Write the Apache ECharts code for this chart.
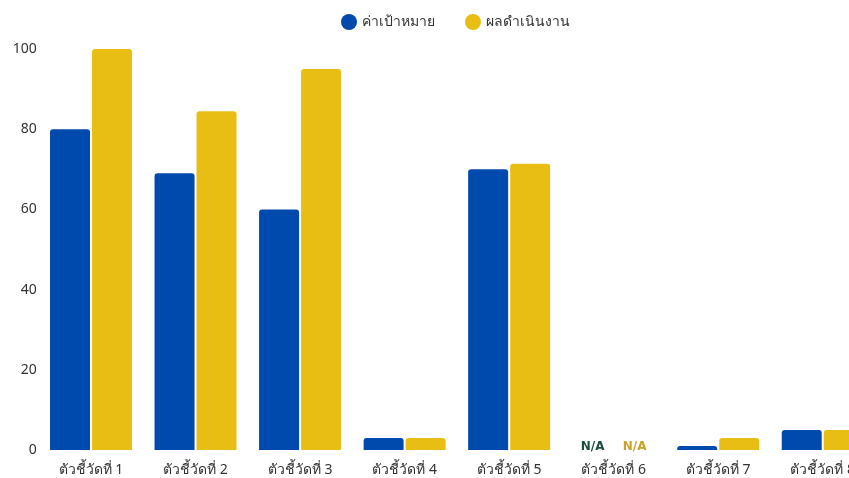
<!DOCTYPE html>
<html>
<head>
<meta charset="utf-8">
<script src="https://cdn.jsdelivr.net/npm/echarts@6/dist/echarts.min.js"></script>
<style>
html,body{margin:0;padding:0;background:#fff;overflow:hidden;width:849px;height:478px;}
#c{width:875px;height:478px;}
</style>
</head>
<body>
<div id="c"></div>
<script>
const categories = ['ตัวชี้วัดที่ 1','ตัวชี้วัดที่ 2','ตัวชี้วัดที่ 3','ตัวชี้วัดที่ 4','ตัวชี้วัดที่ 5','ตัวชี้วัดที่ 6','ตัวชี้วัดที่ 7','ตัวชี้วัดที่ 8'];
const seriesNames = ['ค่าเป้าหมาย','ผลดำเนินงาน'];
const targetValues = [80, 69, 60, 3, 70, null, 1, 5];
const actualValues = [100, 84.5, 95, 3, 71.4, null, 3, 5];
const yTicks = [0, 20, 40, 60, 80, 100];

const colors = ['#004AAD', '#E8BE14'];
const naColors = ['#1B4D3E', '#C9A227'];

function buildData(arr, idx) {
  return arr.map(v => v === null
    ? {value: 0, label: {show: true, position: 'top', distance: -3, formatter: 'N/A', color: naColors[idx], fontWeight: 'bold', fontSize: 12, fontFamily: 'DejaVu Sans'}}
    : v);
}

const chart = echarts.init(document.getElementById('c'));
chart.setOption({
  animation: false,
  textStyle: {fontFamily: 'Noto Sans, sans-serif'},
  legend: {
    top: 9,
    left: 336,
    icon: 'circle',
    itemWidth: 16,
    itemHeight: 16,
    itemGap: 30,
    textStyle: {fontSize: 14, color: '#333'},
    data: seriesNames
  },
  grid: {left: 38.75, right: 0, top: 49, bottom: 28, containLabel: false},
  xAxis: {
    type: 'category',
    data: categories,
    axisLine: {show: false},
    axisTick: {show: false},
    axisLabel: {fontSize: 14, color: '#333', margin: 13}
  },
  yAxis: {
    type: 'value',
    min: yTicks[0],
    max: yTicks[yTicks.length - 1],
    interval: 20,
    axisLine: {show: false},
    axisTick: {show: false},
    splitLine: {show: false},
    axisLabel: {fontSize: 14, color: '#333', margin: 2}
  },
  series: [
    {
      name: seriesNames[0], type: 'bar', data: buildData(targetValues, 0),
      barWidth: 40, barGap: '5%',
      itemStyle: {color: colors[0], borderRadius: [3,3,0,0]}
    },
    {
      name: seriesNames[1], type: 'bar', data: buildData(actualValues, 1),
      barWidth: 40,
      itemStyle: {color: colors[1], borderRadius: [3,3,0,0]}
    }
  ]
});
</script>
</body>
</html>
